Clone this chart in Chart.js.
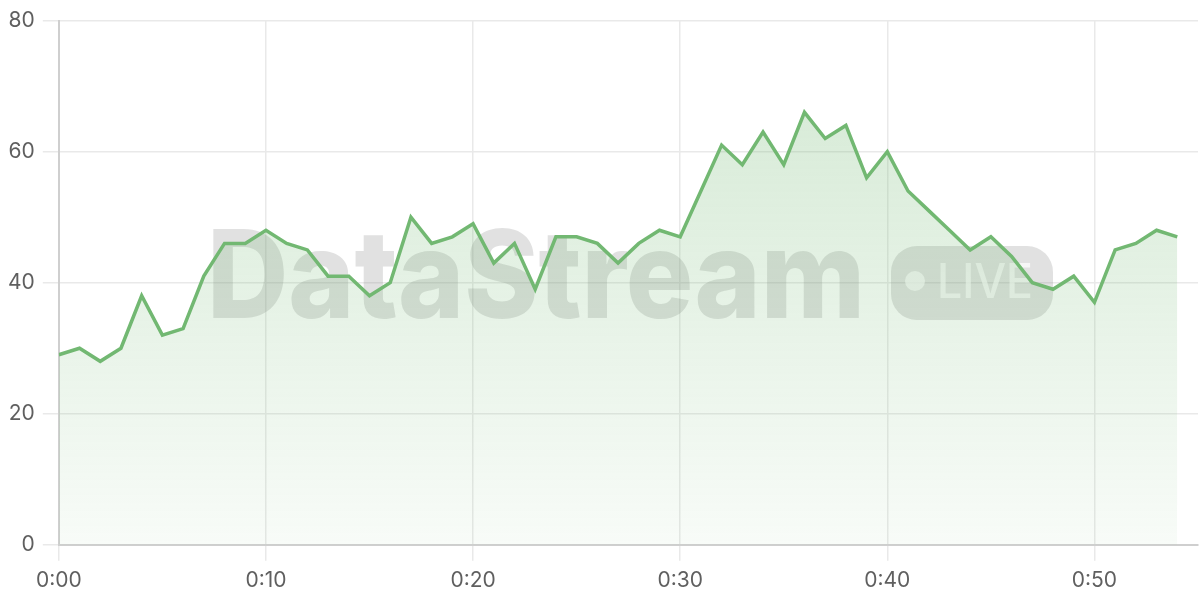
<!DOCTYPE html>
<html lang="en">
<head>
    <meta charset="UTF-8">
    <title>DataStream Live</title>
    <style>
        html, body { margin: 0; padding: 0; background: #fff; }
        #wrap { width: 1200px; height: 600px; }
    </style>
    <script src="https://cdn.jsdelivr.net/npm/chart.js@4.4.0/dist/chart.umd.min.js"></script>
</head>
<body>
    <div id="wrap"><canvas id="stream-chart"></canvas></div>
    <script>
        // minutes since start, one reading per minute
        const minutes = [];
        for (let m = 0; m <= 54; m++) minutes.push(m);
        const values = [29, 30, 28, 30, 38, 32, 33, 41, 46, 46,
                        48, 46, 45, 41, 41, 38, 40, 50, 46, 47,
                        49, 43, 46, 39, 47, 47, 46, 43, 46, 48,
                        47, 54, 61, 58, 63, 58, 66, 62, 64, 56,
                        60, 54, 51, 48, 45, 47, 44, 40, 39, 41,
                        37, 45, 46, 48, 47];
        const yTicks = [0, 20, 40, 60, 80];
        const xTicks = [0, 10, 20, 30, 40, 50];
        const watermark = 'DataStream';
        const badge = 'LIVE';

        const green = 'rgb(114, 184, 114)';
        const fontFamily = 'Inter, "Noto Sans", sans-serif';

        function fmtTime(v) {
            return '0:' + String(v).padStart(2, '0');
        }

        // semi transparent brand mark behind the line
        const watermarkPlugin = {
            id: 'watermark',
            beforeDatasetsDraw(chart) {
                const ctx = chart.ctx;
                ctx.save();
                ctx.fillStyle = 'rgba(120, 120, 120, 0.22)';
                ctx.font = '800 122px ' + fontFamily;
                ctx.textBaseline = 'alphabetic';
                ctx.fillText(watermark, 207, 318, 658);

                const bx = 891, by = 246, bw = 162, bh = 74, r = 26;
                ctx.beginPath();
                ctx.roundRect(bx, by, bw, bh, r);
                ctx.fill();

                ctx.fillStyle = 'rgba(255, 255, 255, 0.7)';
                ctx.beginPath();
                ctx.arc(915, 281, 10, 0, Math.PI * 2);
                ctx.fill();
                ctx.font = '500 48px ' + fontFamily;
                ctx.fillText(badge, 937, 298, 96);
                ctx.restore();
            }
        };

        const ctx = document.getElementById('stream-chart').getContext('2d');
        const chart = new Chart(ctx, {
            type: 'line',
            data: {
                datasets: [{
                    data: minutes.map((m, i) => ({ x: m, y: values[i] })),
                    borderColor: green,
                    borderWidth: 3.5,
                    pointRadius: 0,
                    tension: 0,
                    fill: 'origin',
                    backgroundColor: (c) => {
                        const area = c.chart.chartArea;
                        if (!area) return 'rgba(114,184,114,0.2)';
                        const g = c.chart.ctx.createLinearGradient(0, area.top, 0, area.bottom);
                        g.addColorStop(0, 'rgba(114, 184, 114, 0.32)');
                        g.addColorStop(1, 'rgba(114, 184, 114, 0.05)');
                        return g;
                    }
                }]
            },
            options: {
                responsive: true,
                maintainAspectRatio: false,
                animation: false,
                layout: { padding: { top: 10, right: 2, left: 0, bottom: 0 } },
                plugins: {
                    legend: { display: false },
                    tooltip: { enabled: false }
                },
                scales: {
                    x: {
                        type: 'linear',
                        min: 0,
                        max: 55,
                        afterBuildTicks: (axis) => { axis.ticks = xTicks.map(v => ({ value: v })); },
                        ticks: {
                            callback: fmtTime,
                            color: '#5f5f5f',
                            font: { family: fontFamily, size: 21 },
                            padding: 7,
                            maxRotation: 0
                        },
                        grid: { color: '#e9e9e9', lineWidth: 1.5, tickLength: 16 },
                        border: { color: '#cfcfcf', width: 2 }
                    },
                    y: {
                        min: 0,
                        max: 80,
                        afterBuildTicks: (axis) => { axis.ticks = yTicks.map(v => ({ value: v })); },
                        ticks: {
                            color: '#5f5f5f',
                            font: { family: fontFamily, size: 21 },
                            padding: 8
                        },
                        grid: { color: '#e9e9e9', lineWidth: 1.5, tickLength: 16 },
                        border: { color: '#cfcfcf', width: 2 }
                    }
                }
            },
            plugins: [watermarkPlugin]
        });
    </script>
</body>
</html>
